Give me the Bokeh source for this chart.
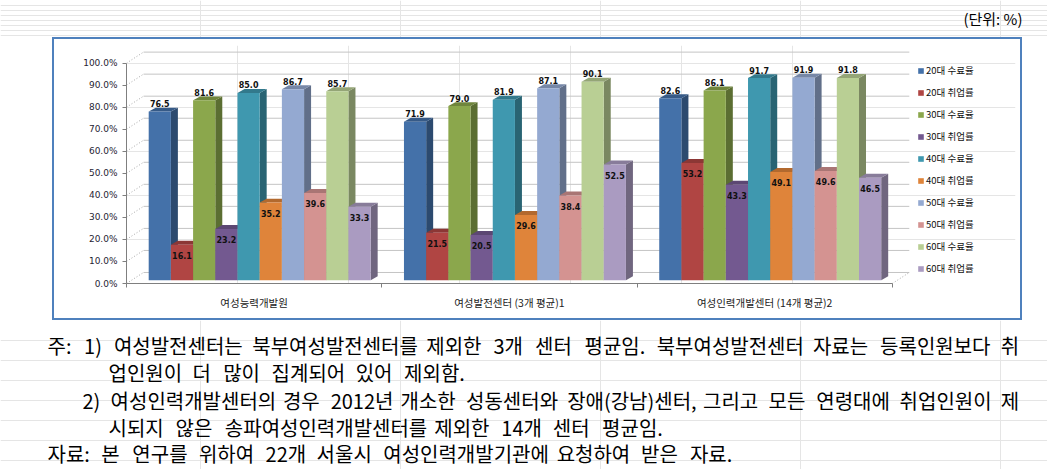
from bokeh.plotting import figure
from bokeh.models import (Range1d, LinearAxis, FixedTicker, ColumnDataSource,
                          Legend, LegendItem, Spacer)
from bokeh.layouts import column, row
from bokeh.core.properties import value
from bokeh.embed import file_html
from bokeh.resources import INLINE

# ---------------- data ----------------
groups = ["여성능력개발원", "여성발전센터 (3개 평균)1", "여성인력개발센터 (14개 평균)2"]
series_names = ["20대 수료율", "20대 취업률", "30대 수료율", "30대 취업률", "40대 수료율",
                "40대 취업률", "50대 수료율", "50대 취업률", "60대 수료율", "60대 취업률"]
v20_done = [76.5, 71.9, 82.6]
v20_job = [16.1, 21.5, 53.2]
v30_done = [81.6, 79.0, 86.1]
v30_job = [23.2, 20.5, 43.3]
v40_done = [85.0, 81.9, 91.7]
v40_job = [35.2, 29.6, 49.1]
v50_done = [86.7, 87.1, 91.9]
v50_job = [39.6, 38.4, 49.6]
v60_done = [85.7, 90.1, 91.8]
v60_job = [33.3, 52.5, 46.5]
series_values = [v20_done, v20_job, v30_done, v30_job, v40_done,
                 v40_job, v50_done, v50_job, v60_done, v60_job]
y_ticks = [0, 10, 20, 30, 40, 50, 60, 70, 80, 90, 100]
y_tick_labels = ["0.0%", "10.0%", "20.0%", "30.0%", "40.0%", "50.0%",
                 "60.0%", "70.0%", "80.0%", "90.0%", "100.0%"]
unit_text = "(단위: %)"
note_lines = [
    "주: 1) 여성발전센터는 북부여성발전센터를 제외한 3개 센터 평균임. 북부여성발전센터 자료는 등록인원보다 취",
    "업인원이 더 많이 집계되어 있어 제외함.",
    "2) 여성인력개발센터의 경우 2012년 개소한 성동센터와 장애(강남)센터, 그리고 모든 연령대에 취업인원이 제",
    "시되지 않은 송파여성인력개발센터를 제외한 14개 센터 평균임.",
    "자료: 본 연구를 위하여 22개 서울시 여성인력개발기관에 요청하여 받은 자료.",
]

# ---------------- style ----------------
front_colors = ["#4471A9", "#B04543", "#8BA74C", "#735990", "#3F98AF",
                "#DF843A", "#94A9D1", "#D49391", "#B9CF94", "#AA9BC1"]


def shade(hex_color, f):
    h = hex_color.lstrip("#")
    r, g, b = int(h[0:2], 16), int(h[2:4], 16), int(h[4:6], 16)
    return "#%02x%02x%02x" % (int(r * f), int(g * f), int(b * f))


side_colors = [shade(c, 0.66) for c in front_colors]
top_colors = [shade(c, 0.80) for c in front_colors]

KR = "Noto Sans CJK KR"
BOX = "#4F81BD"
GROUP_W = 11.5      # category width in bar units
BAR_OFF = 1.0       # first bar offset in category
BZ = 1.5            # bar base lift (mid-depth of floor)
DX, DY = 0.315, 1.8  # bar depth projection
DXW, DYW = 0.766, 5.0  # wall depth projection

# ---------------- chart ----------------
p = figure(width=966, height=279, output_backend="svg", toolbar_location=None,
           x_range=Range1d(0, 40.05), y_range=Range1d(0, 108),
           x_axis_location=None, y_axis_location=None,
           min_border_left=72, min_border_right=5, min_border_top=6, min_border_bottom=35,
           outline_line_color=None, background_fill_color="white", border_fill_color="white")

n_cat = len(groups)
floor_end = GROUP_W * n_cat

# back wall gridlines
p.segment(x0=[DXW] * len(y_ticks), y0=[t + DYW for t in y_ticks],
          x1=[floor_end + DXW] * len(y_ticks), y1=[t + DYW for t in y_ticks],
          line_color="#c4c4c4", line_width=1)
# left wall diagonals
p.segment(x0=[0] * len(y_ticks), y0=y_ticks,
          x1=[DXW] * len(y_ticks), y1=[t + DYW for t in y_ticks],
          line_color="#a8a8a8", line_width=1, line_dash="1 2")
# floor right edge
p.segment(x0=[floor_end], y0=[0], x1=[floor_end + DXW], y1=[DYW],
          line_color="#a8a8a8", line_width=1, line_dash="1 2")

legend_items = []
label_x, label_y, label_t = [], [], []
for s, vals in enumerate(series_values):
    xs = [GROUP_W * g + BAR_OFF + s + 0.5 for g in range(n_cat)]
    tops = [v + BZ for v in vals]
    side_xs = [[x + 0.5, x + 0.5 + DX, x + 0.5 + DX, x + 0.5] for x in xs]
    side_ys = [[BZ, BZ + DY, t + DY, t] for t in tops]
    top_xs = [[x - 0.5, x - 0.5 + DX, x + 0.5 + DX, x + 0.5] for x in xs]
    top_ys = [[t, t + DY, t + DY, t] for t in tops]
    p.patches(xs=side_xs, ys=side_ys, fill_color=side_colors[s], line_color=None)
    p.patches(xs=top_xs, ys=top_ys, fill_color=top_colors[s], line_color=None)
    src = ColumnDataSource(dict(x=xs, top=tops, bottom=[BZ] * n_cat))
    r = p.vbar(x="x", width=1, top="top", bottom="bottom", source=src,
               fill_color=front_colors[s], line_color=None)
    legend_items.append(LegendItem(label=series_names[s], renderers=[r]))
    for x, v in zip(xs, vals):
        label_x.append(x)
        label_y.append(v + BZ + 3.6 if s % 2 == 0 else v + BZ - 4.8)
        label_t.append("%.1f" % v)

p.text(x=label_x, y=label_y, text=label_t, text_font=value("DejaVu Sans"),
       text_font_style="bold", text_font_size="8px", text_color="#111111",
       text_align="center", text_baseline="middle")

yaxis = LinearAxis(ticker=FixedTicker(ticks=y_ticks),
                   major_label_overrides={t: l for t, l in zip(y_ticks, y_tick_labels)},
                   bounds=(0, 100), axis_line_color="#7f7f7f",
                   major_tick_line_color="#7f7f7f", major_tick_out=4, major_tick_in=0,
                   minor_tick_line_color=None, major_label_standoff=5,
                   major_label_text_font="DejaVu Sans", major_label_text_font_size="9px",
                   major_label_text_color="#1f2533")
p.add_layout(yaxis, "left")

centers = [GROUP_W * g + GROUP_W / 2 for g in range(n_cat)]
bounds_ticks = [GROUP_W * g for g in range(n_cat + 1)]
xaxis = LinearAxis(ticker=FixedTicker(ticks=centers, minor_ticks=bounds_ticks),
                   major_label_overrides={c: l for c, l in zip(centers, groups)},
                   bounds=(0, floor_end), axis_line_color="#7f7f7f",
                   major_tick_line_color=None, major_tick_out=0, major_tick_in=0,
                   minor_tick_line_color="#7f7f7f", minor_tick_out=4, minor_tick_in=0,
                   major_label_standoff=7,
                   major_label_text_font=KR, major_label_text_font_size="10.5px",
                   major_label_text_color="#222222")
p.add_layout(xaxis, "below")

legend = Legend(items=legend_items, location=(791, 8), orientation="vertical",
                glyph_width=7, glyph_height=7, label_height=7, spacing=8,
                label_standoff=2, padding=0, margin=0,
                label_text_font=KR, label_text_font_size="9.5px",
                label_text_color="#111111",
                border_line_color=None, background_fill_alpha=0)
p.add_layout(legend)

# chart box edges
box = column(
    Spacer(width=970, height=2, styles={"background-color": BOX}),
    row(Spacer(width=2, height=279, styles={"background-color": BOX}),
        p,
        Spacer(width=2, height=279, styles={"background-color": BOX})),
    Spacer(width=970, height=2, styles={"background-color": BOX}),
)

# ---------------- unit label (top) ----------------
top = figure(width=1047, height=37, output_backend="svg", toolbar_location=None,
             x_range=Range1d(0, 1047), y_range=Range1d(37, 0),
             x_axis_location=None, y_axis_location=None, min_border=0,
             outline_line_color=None)
top.text(x=[1022], y=[18], text=[unit_text], text_font=value(KR), text_font_size="15px",
         text_color="black", text_align="right", text_baseline="middle")

# ---------------- notes (bottom) ----------------
FS = 20.0


def est_width(word):
    w = 0.0
    for ch in word:
        if "\uac00" <= ch <= "\ud7a3":
            w += 0.89
        elif ch.isdigit():
            w += 0.5
        elif ch in "()":
            w += 0.3
        elif ch in ":.,":
            w += 0.25
        elif ch == "%":
            w += 0.8
        else:
            w += 0.45
    return w * FS


line_start = [47, 108, 82, 108, 47]
line_y = [25, 52, 80, 107, 133]
line_end = [1018, 462, 1018, 660, 730]

nx, ny, nt = [], [], []
for text, x0, yc, xe in zip(note_lines, line_start, line_y, line_end):
    words = text.split(" ")
    widths = [est_width(w) for w in words]
    gap = (xe - x0 - sum(widths)) / (len(words) - 1)
    x = x0
    for w, wd in zip(words, widths):
        nx.append(x)
        ny.append(yc)
        nt.append(w)
        x += wd + gap

notes = figure(width=1047, height=149, output_backend="svg", toolbar_location=None,
               x_range=Range1d(0, 1047), y_range=Range1d(149, 0),
               x_axis_location=None, y_axis_location=None, min_border=0,
               outline_line_color=None)
notes.text(x=nx, y=ny, text=nt, text_font=value(KR), text_font_size="20px",
           text_color="black", text_align="left", text_baseline="middle")

layout = column(top,
                row(Spacer(width=52, height=283), box, Spacer(width=25, height=283)),
                notes)

open("out.html", "w").write(file_html(layout, INLINE))
